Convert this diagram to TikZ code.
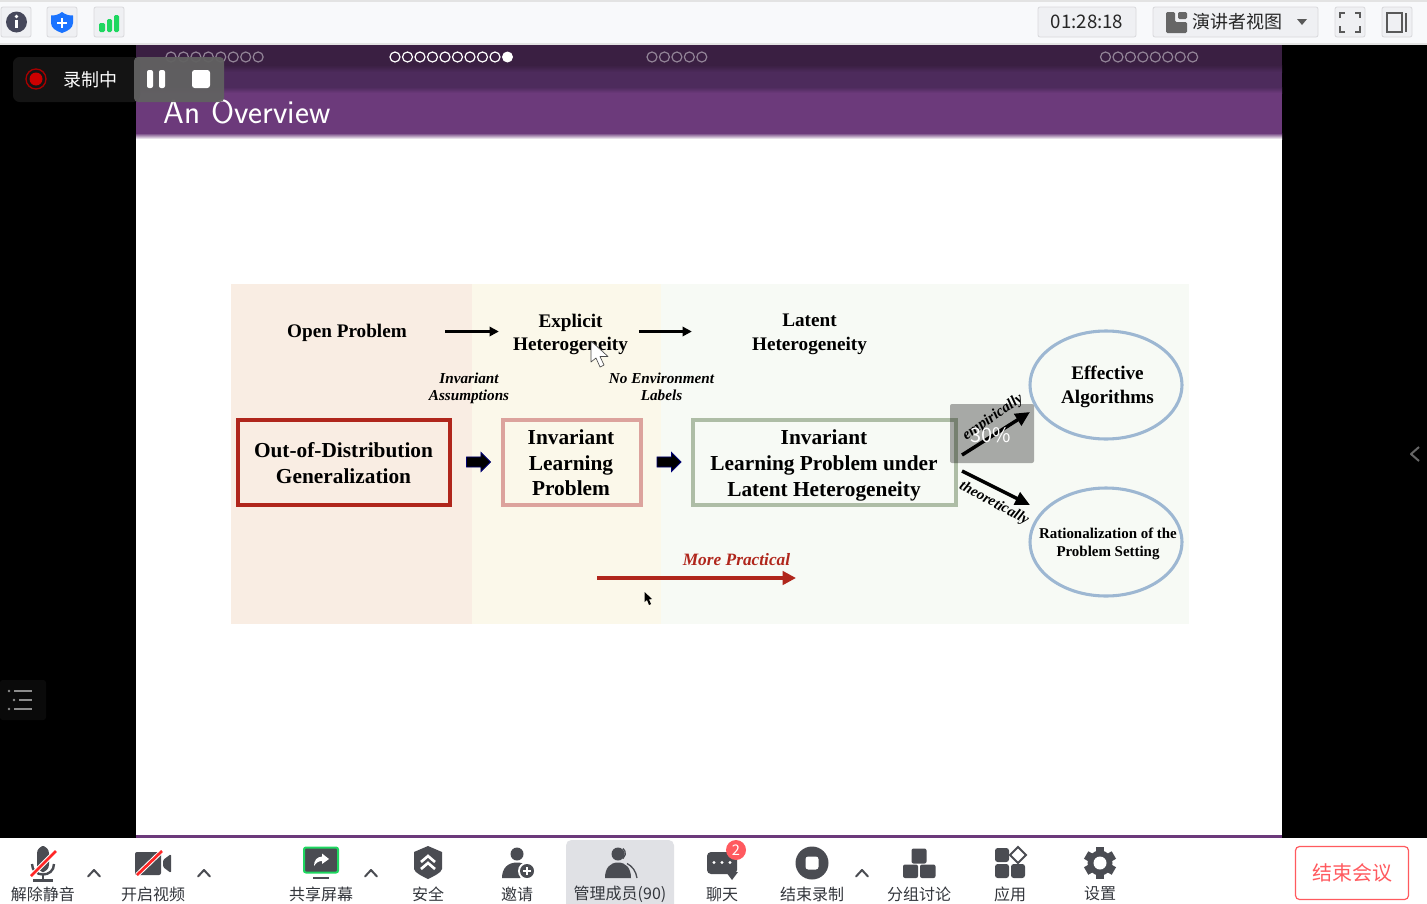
\documentclass[tikz,border=0pt]{standalone}
\usepackage{fontspec}
\setmainfont{Liberation Serif}
\newfontfamily\cjk{Noto Sans CJK SC}
\usetikzlibrary{shapes.geometric,shapes.arrows,arrows.meta}
\definecolor{barA}{HTML}{3A1F42}
\definecolor{barB}{HTML}{4D2B5C}
\definecolor{barC}{HTML}{6C3A7B}
\definecolor{icon}{HTML}{4A4C52}
\definecolor{btnfill}{HTML}{EFF0F3}
\definecolor{btnline}{HTML}{D9D9DC}
\definecolor{panelA}{HTML}{F9EDE3}
\definecolor{panelB}{HTML}{FBF8EA}
\definecolor{panelC}{HTML}{F7FAF5}
\definecolor{oodred}{HTML}{B0261C}
\definecolor{ilppink}{HTML}{DCA39D}
\definecolor{latgreen}{HTML}{AEBDA6}
\definecolor{ellblue}{HTML}{9DB7D2}
\definecolor{endred}{HTML}{FF5A5F}
\definecolor{okgreen}{HTML}{1ED760}
\definecolor{shieldblue}{HTML}{1A73FF}
\definecolor{hilite}{HTML}{E0E1E5}
\definecolor{labtext}{HTML}{33363C}
\definecolor{topbg}{HTML}{F8F9FB}
\tikzset{
  headt/.style={font=\bfseries\fontsize{14.4}{17.8}\selectfont,align=center,inner sep=0pt},
  itt/.style={font=\bfseries\itshape\fontsize{11.4}{12.75}\selectfont,align=center,inner sep=0pt},
  framebox/.style={draw=#1,line width=3pt,fill=none,inner sep=0pt,minimum height=63.75pt},
  boxt/.style={font=\bfseries\fontsize{16}{19.2}\selectfont,align=center,inner sep=0pt},
  ell/.style={ellipse,draw=ellblue,line width=2.3pt,minimum width=114pt,minimum height=81pt,inner sep=0pt},
  thinarr/.style={-{Triangle[length=7pt,width=7pt]},line width=2pt,black},
  diagarr/.style={-{Triangle[length=11pt,width=10pt]},line width=2.6pt,black},
  blockarr/.style={single arrow,fill=black,draw=blue!45!black,line width=.6pt,minimum height=18pt,single arrow head extend=3.4pt,single arrow tip angle=90,single arrow head indent=0pt,inner sep=3.5pt},
  btn/.style={draw=btnline,fill=btnfill,line width=.6pt,rounded corners=1.5pt},
  lab/.style={font=\cjk\fontsize{12}{14}\selectfont,text=labtext,inner sep=0pt},
  chev/.style={draw=icon,line width=1.5pt,line cap=round,line join=round},
  navdot/.style={draw=white,line width=.9pt},
}
\newcommand{\chevup}[2]{\draw[chev] (#1-6,#2+3.5) -- (#1,#2-3) -- (#1+6,#2+3.5);}
\begin{document}
\begin{tikzpicture}[x=.75pt,y=-.75pt]
\useasboundingbox (0,0) rectangle (1427,903);
% window
\fill[black] (0,0) rectangle (1427,903);
% slide
\fill[white] (136,45) rectangle (1282,835);
\fill[barA] (136,45) rectangle (1282,67);
\shade[top color=barA,bottom color=barB] (136,65) rectangle (1282,72);
\fill[barB] (136,72) rectangle (1282,87);
\shade[top color=barB,bottom color=barC] (136,87) rectangle (1282,93);
\fill[barC] (136,93) rectangle (1282,133);
\shade[top color=barC,bottom color=white] (136,133) rectangle (1282,139);
\fill[barC] (136,835) rectangle (1282,837.5);
% nav dots
\foreach \i in {0,...,7} \draw[navdot,draw opacity=.45] (171+12.45*\i,57) circle (5);
\foreach \i in {0,...,8} \draw[navdot] (395+12.5*\i,57) circle (5);
\fill[white] (507.5,57) circle (5.5);
\foreach \i in {0,...,4} \draw[navdot,draw opacity=.45] (652+12.45*\i,57) circle (5);
\foreach \i in {0,...,7} \draw[navdot,draw opacity=.45] (1105.5+12.45*\i,57) circle (5);
\node[text=white,font=\sffamily\fontsize{25}{29}\selectfont,inner sep=0pt,anchor=base west] (title) at (163.5,123) {An Overview};
% panels
\fill[panelA] (231,284) rectangle (472,623.5);
\fill[panelB] (472,284) rectangle (661,623.5);
\fill[panelC] (661,284) rectangle (1189,623.5);
% heads
\node[headt] (open) at (347,333) {Open Problem};
\node[headt] (explicit) at (570.5,334.5) {Explicit\\Heterogeneity};
\node[headt] (latent) at (809.5,334.5) {Latent\\Heterogeneity};
\coordinate (arow) at (500,331.5);
\draw[thinarr,shorten <=28.5pt,shorten >=10.5pt] (open.east |- arow) -- (explicit.west |- arow);
\draw[thinarr,shorten <=8pt,shorten >=45pt] (explicit.east |- arow) -- (latent.west |- arow);
\node[itt] (assump) at (469,388.5) {Invariant\\Assumptions};
\node[itt] (noenv) at (661.5,386.5) {No Environment\\Labels};
% boxes
\node[framebox=oodred,minimum width=159pt] (ood) at (344,462.5) {};
\node[boxt,font=\bfseries\fontsize{16}{19.5}\selectfont] (oodt) at (343.5,463) {Out-of-Distribution\\Generalization};
\node[framebox=ilppink,minimum width=103.5pt] (ilp) at (571.5,462.5) {};
\node[boxt] (ilpt) at (571,463) {Invariant\\Learning\\Problem};
\node[framebox=latgreen,minimum width=197.25pt] (lhg) at (824.5,462.5) {};
\node[boxt] (lhgt) at (824,465.5) {Invariant\\Learning Problem under\\Latent Heterogeneity};
\node[blockarr] (b1) at (476,462) {};
\node[blockarr] (b2) at (666.5,462) {};
% ellipses
\node[ell] (eff) at (1106,385) {};
\node[headt] (efft) at (1107.5,387) {Effective\\Algorithms};
\node[ell] (rat) at (1106,542) {};
\node[headt,font=\bfseries\fontsize{11.2}{13.5}\selectfont] (ratt) at (1108,543.5) {Rationalization of the\\Problem Setting};
\coordinate (e1) at (962,455);
\coordinate (e2) at (1030,412);
\coordinate (t1) at (962,471);
\coordinate (t2) at (1030,505);
\draw[diagarr] (e1) -- (e2);
\draw[diagarr] (t1) -- (t2);
\node[itt,rotate=35,font=\bfseries\itshape\fontsize{11.4}{13}\selectfont] (emp) at (993,417.5) {empirically};
\node[itt,rotate=-28,font=\bfseries\itshape\fontsize{11.2}{13}\selectfont] (theo) at (994,503.5) {theoretically};
\node[font=\bfseries\itshape\fontsize{13}{15}\selectfont,text=oodred,inner sep=0pt] (more) at (736.5,559.5) {More Practical};
\coordinate (m1) at (597,578);
\coordinate (m2) at (796,578);
\draw[-{Triangle[length=10pt,width=10pt]},line width=3.4pt,oodred] (m1) -- (m2);
% 30% overlay
\fill[black,opacity=.32,rounded corners=1.5pt] (950,404) rectangle (1034,463);
\node[text=white,font=\cjk\fontsize{15}{18}\selectfont,inner sep=0pt] (pct) at (991,435) {30\%};
% cursors
\draw[fill=white,draw=black!70,line width=.5pt,line join=round] (591,341) -- (591,362) -- (596,358) -- (600,367) -- (604,365) -- (600,356.5) -- (608,356.5) -- cycle;
\fill[black] (644.5,592) -- (644.5,602) -- (647,600) -- (649,605) -- (651,604) -- (649,599.5) -- (652,599) -- cycle;
% recording overlay
\fill[black!92!white,rounded corners=5pt] (13,57) rectangle (140,102);
\fill[white!38!black,opacity=.95,rounded corners=3pt] (134,57) rectangle (224,102);
\draw[red!65!black,line width=1pt] (36,79) circle (10);
\fill[red!80!black] (36,79) circle (6.5);
\node[font=\cjk\fontsize{13.5}{16}\selectfont,text=white,inner sep=0pt] (rec) at (90,79.5) {录制中};
\fill[white,rounded corners=1.5pt] (147,70) rectangle (153,88);
\fill[white,rounded corners=1.5pt] (159,70) rectangle (165,88);
\fill[white,rounded corners=2pt] (192,70) rectangle (210,88);
% side marks
\draw[black!60!white,line width=1.5pt,line join=round] (1419,447) -- (1411,454) -- (1419,461);
\fill[black!96!white,rounded corners=2pt] (0,680) rectangle (46,720);
\draw[white!55!black,line width=1.6pt] (14,691) -- (32,691) (19,700) -- (32,700) (14,709) -- (32,709);
\fill[white!55!black] (9,691) circle (1.4) (14,700) circle (1.4) (9,709) circle (1.4);
% top bar
\fill[topbg] (0,0) rectangle (1427,45);
\fill[black!11] (0,0) rectangle (1427,2);
\fill[black!11] (0,43) rectangle (1427,45);
\draw[btn] (1,7) rectangle (31,37);
\draw[btn] (47,7) rectangle (77,37);
\draw[btn] (94,7) rectangle (124,37);
\fill[icon!95!blue] (16.5,22) circle (10.5);
\fill[white] (16.5,16.5) circle (1.8);
\fill[white] (15,20) rectangle (18,28);
\fill[shieldblue] (62,12) .. controls (66,15) and (69,15.5) .. (73,15.5) -- (73,23) .. controls (73,28) and (68,31) .. (62,33) .. controls (56,31) and (51,28) .. (51,23) -- (51,15.5) .. controls (55,15.5) and (58,15) .. (62,12) -- cycle;
\draw[white,line width=1.6pt] (57,23) -- (67,23) (62,18) -- (62,28);
\fill[okgreen,rounded corners=1pt] (99,23) rectangle (105,32);
\fill[okgreen,rounded corners=1pt] (107,19) rectangle (112,32);
\fill[okgreen,rounded corners=1pt] (114,15) rectangle (119,32);
\draw[btn] (1038,7) rectangle (1136,37);
\node[font=\cjk\fontsize{14}{16}\selectfont,text=black!85,inner sep=0pt] (clock) at (1087,22) {01:28:18};
\draw[btn] (1153,7) rectangle (1318,37);
\fill[black!60,rounded corners=1pt] (1166,12) -- (1175,12) -- (1175,22) -- (1187,22) -- (1187,33) -- (1166,33) -- cycle;
\fill[black!60,rounded corners=1pt] (1178,12) rectangle (1187,19);
\node[font=\cjk\fontsize{13.5}{16}\selectfont,text=black!85,inner sep=0pt] (view) at (1237,22) {演讲者视图};
\fill[black!65] (1297,19) -- (1307,19) -- (1302,25) -- cycle;
\draw[btn] (1335,7) rectangle (1365,37);
\draw[black!65,line width=1.5pt] (1340,18) -- (1340,13) -- (1345,13) (1355,13) -- (1360,13) -- (1360,18) (1360,26) -- (1360,32) -- (1355,32) (1345,32) -- (1340,32) -- (1340,26);
\draw[btn] (1382,7) rectangle (1412,37);
\draw[black!65,line width=1.5pt] (1387,13) rectangle (1402,32);
\draw[black!65,line width=1.5pt] (1406,13) -- (1406,32);
% bottom bar
\fill[white] (0,837.5) rectangle (1427,903);
\fill[hilite,rounded corners=4pt] (566,840) rectangle (674,910);
% mic
\fill[icon,rounded corners=5.5pt] (37,846) rectangle (49,872);
\draw[icon,line width=1.8pt] (32,864) .. controls (32,878) and (54,878) .. (54,864);
\draw[icon,line width=2pt] (43,875) -- (43,880);
\draw[icon,line width=2pt] (33,880.5) -- (53,880.5);
\draw[white,line width=3.5pt] (31,876) -- (56,851);
\draw[red!85!white,line width=2pt] (31,876) -- (56,851);
% camera
\fill[icon,rounded corners=1.5pt] (135,852) rectangle (161,875);
\fill[icon,rounded corners=1pt] (163,860) -- (171,854) -- (171,873) -- (163,867) -- cycle;
\draw[white,line width=3.5pt] (137,875) -- (162,851);
\draw[red!85!white,line width=2pt] (137,875) -- (162,851);
% share
\draw[okgreen,fill=icon,line width=1.5pt,rounded corners=1.5pt] (304,847.5) rectangle (338,872.5);
\fill[white] (322,853.5) -- (329,859) -- (322,864) -- (322,861) .. controls (318,861) and (316,863) .. (314,866) .. controls (314,860) and (317,857) .. (322,856.5) -- cycle;
\draw[icon,line width=2pt] (313,878) -- (329,878);
% security
\fill[icon] (428,846) -- (442,852) -- (442,869) .. controls (441,873) and (434,876) .. (428,879) .. controls (422,876) and (415,873) .. (414,869) -- (414,852) -- cycle;
\draw[white,line width=2pt] (421,862) -- (428,856) -- (435,862) (421,869) -- (428,863) -- (435,869);
% invite
\fill[icon] (517,854) circle (6.5);
\fill[icon] (502,878) .. controls (502,868) and (508,862.5) .. (517,862.5) .. controls (522,862.5) and (526,864) .. (528,868) -- (520,878) -- cycle;
\fill[white] (527,871) circle (9);
\fill[icon] (527,871) circle (7);
\draw[white,line width=1.4pt] (523,871) -- (531,871) (527,867) -- (527,875);
% members
\fill[icon] (618,854) circle (6.5);
\draw[icon,line width=1pt] (623,848.5) arc (-50:50:6.5);
\fill[icon] (605,878) .. controls (605,868) and (610,862.5) .. (618,862.5) .. controls (626,862.5) and (631,868) .. (631,878) -- cycle;
\draw[icon,line width=1pt] (627,863.5) .. controls (632,866) and (636,871) .. (637,878);
% chat
\fill[icon,rounded corners=3pt] (707,852) rectangle (737,874);
\fill[icon] (726,872) -- (738,872) -- (732,880) -- cycle;
\fill[white] (714,862.5) circle (1.7) (722,862.5) circle (1.7) (730,862.5) circle (1.7);
\fill[endred] (736,850) circle (10);
\node[font=\cjk\fontsize{11}{13}\selectfont,text=white,inner sep=0pt] (badge) at (736,850) {2};
% stop rec
\fill[icon] (812,863) circle (16.5);
\fill[white,rounded corners=2pt] (805.5,856.5) rectangle (818.5,869.5);
% groups
\fill[icon,rounded corners=1.5pt] (911.5,848.5) rectangle (926.5,863.5);
\fill[icon,rounded corners=1.5pt] (903,864.5) rectangle (918,878);
\fill[icon,rounded corners=1.5pt] (920,864.5) rectangle (935.5,878);
% apps
\fill[icon,rounded corners=2pt] (995,848) rectangle (1009,862);
\fill[icon,rounded corners=2pt] (995,864) rectangle (1009,878);
\fill[icon,rounded corners=2pt] (1011,864) rectangle (1025,878);
\draw[icon,line width=1.4pt] (1018,847) -- (1026,855) -- (1018,863) -- (1010,855) -- cycle;
% gear
\fill[icon] (1100,863) circle (12.5);
\foreach \a in {0,60,...,300} \draw[icon,line width=6.5pt] (1100,863) -- ++(\a+30:16);
\fill[white] (1100,863) circle (6.5);
% chevrons
\chevup{94}{873}
\chevup{204}{873}
\chevup{371}{873}
\chevup{862}{873}
% labels
\node[lab] (l1) at (43,894) {解除静音};
\node[lab] (l2) at (153,894) {开启视频};
\node[lab] (l3) at (321,894) {共享屏幕};
\node[lab] (l4) at (428,894) {安全};
\node[lab] (l5) at (517,894) {邀请};
\node[lab] (l6) at (620,894) {管理成员(90)};
\node[lab] (l7) at (722,894) {聊天};
\node[lab] (l8) at (812,894) {结束录制};
\node[lab] (l9) at (919,894) {分组讨论};
\node[lab] (l10) at (1010,894) {应用};
\node[lab] (l11) at (1100,894) {设置};
% end meeting
\draw[endred,line width=.9pt,rounded corners=3pt] (1295.5,846.5) rectangle (1408.5,899.5);
\node[font=\cjk\fontsize{15}{18}\selectfont,text=endred,inner sep=0pt] (endm) at (1352,873) {结束会议};
\end{tikzpicture}
\end{document}
